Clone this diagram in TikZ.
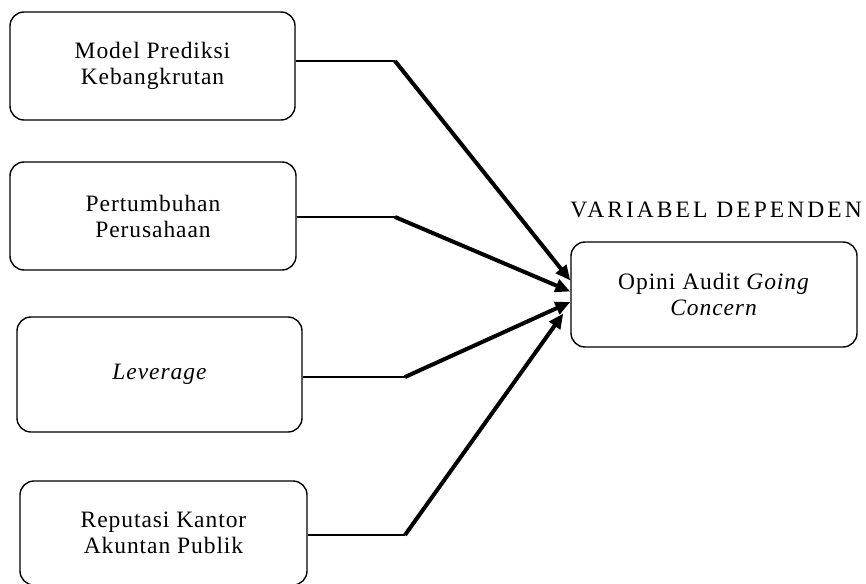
\documentclass[tikz,border=0pt]{standalone}
\usepackage{fontspec}
\setmainfont{Liberation Serif}
\newfontfamily\boxfont{Liberation Serif}[LetterSpace=4]
\newfontfamily\titlefont{Liberation Serif}[LetterSpace=13]
\usetikzlibrary{arrows.meta,calc}
\begin{document}
\begin{tikzpicture}[x=1pt,y=-1pt,
  box/.style={draw,line width=1.4pt,rounded corners=14pt,align=center,
    font=\boxfont\fontsize{23.5}{26}\selectfont,inner sep=0pt},
  feed/.style={line width=1.4pt},
  push/.style={line width=4pt,-{Triangle[length=15pt,width=13pt]}}]
\useasboundingbox (0,0) rectangle (866,583);
\node[box,minimum width=285pt,minimum height=108pt] (b1) at (152.5,66) {Model Prediksi\\Kebangkrutan};
\node[box,minimum width=286pt,minimum height=108pt] (b2) at (153,216) {Pertumbuhan\\Perusahaan};
\node[box,minimum width=285pt,minimum height=115pt] (b3) at (159.5,374.5) {\itshape Leverage};
\node[box,minimum width=287pt,minimum height=104pt] (b4) at (163.5,533) {Reputasi Kantor\\Akuntan Publik};
\node[box,minimum width=286pt,minimum height=105pt] (t) at (714,294.5) {Opini Audit \textit{Going}\\\textit{Concern}};
\node[font=\titlefont\fontsize{23.5}{26}\selectfont,anchor=base] (title) at (716,217) {VARIABEL DEPENDEN};
\coordinate (k1) at (395,61);
\coordinate (k2) at (395,217);
\coordinate (k3) at (405,377);
\coordinate (k4) at (405,535);
\draw[feed] (b1.east |- k1) -- (k1);
\draw[feed] (b2.east |- k2) -- (k2);
\draw[feed] (b3.east |- k3) -- (k3);
\draw[feed] (b4.east |- k4) -- (k4);
\draw[push] (k1) -- ($(t.west)+(0,-14)$);
\draw[push] (k2) -- ($(t.west)+(0,-3)$);
\draw[push] (k3) -- ($(t.west)+(0,7.5)$);
\draw[push] (k4) -- ($(t.west)+(-7,19)$);
\end{tikzpicture}
\end{document}
